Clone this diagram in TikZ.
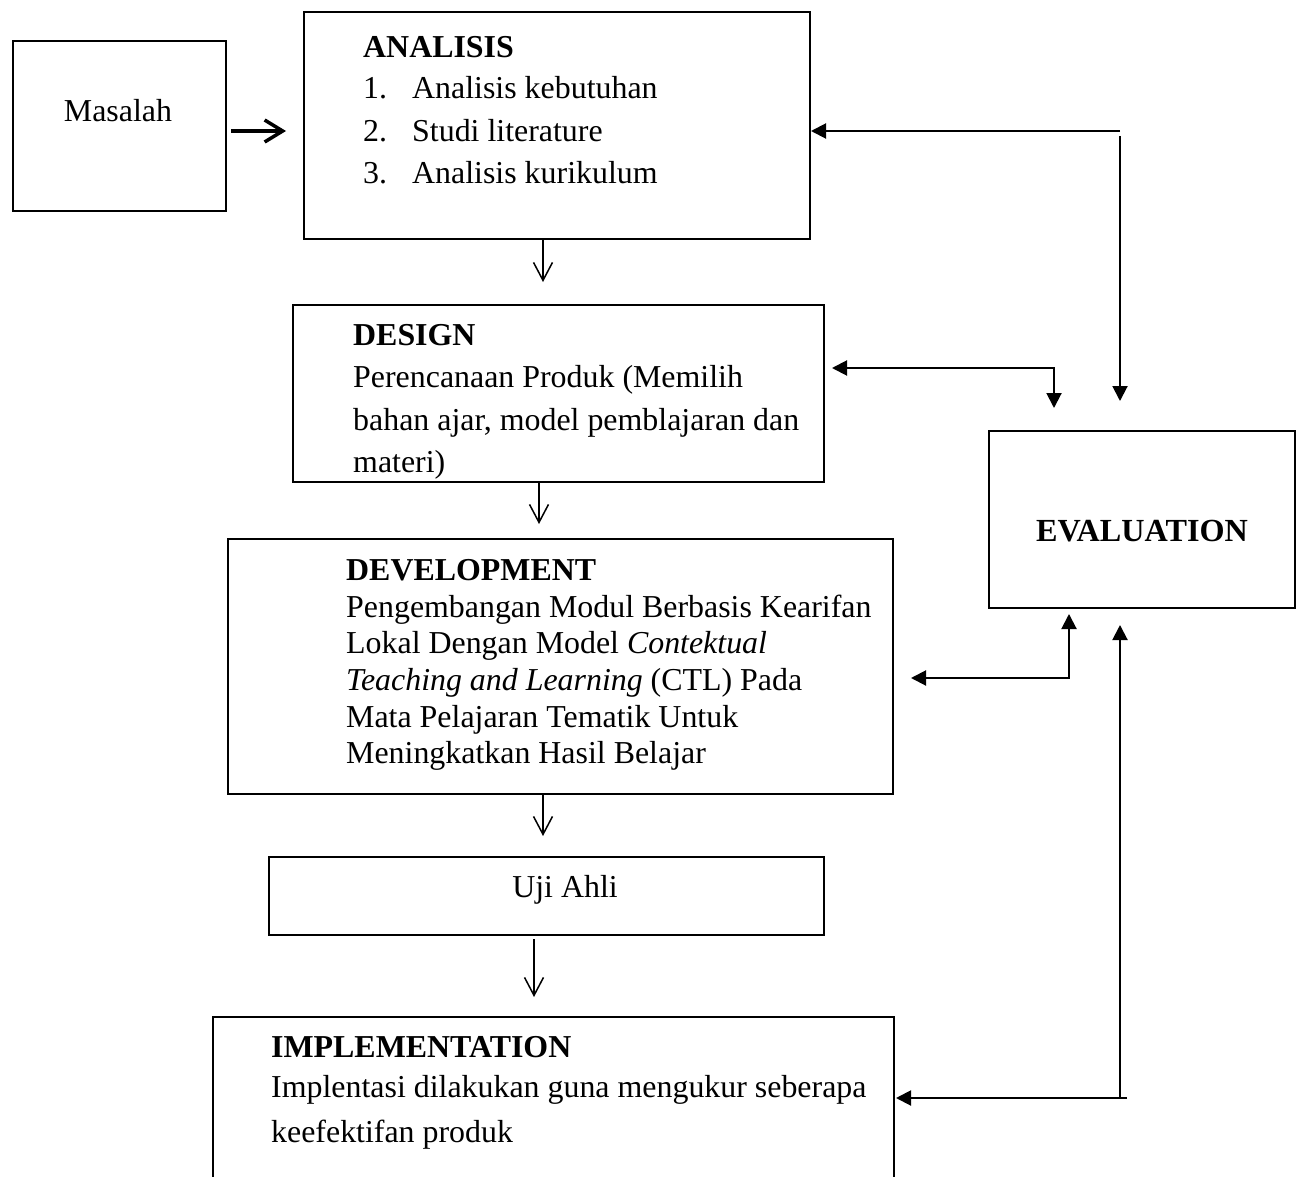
\documentclass[tikz,border=0pt]{standalone}
\usepackage{fontspec}
\setmainfont{Liberation Serif}
\usetikzlibrary{arrows.meta,calc}
\begin{document}
\begin{tikzpicture}[x=1pt,y=-1pt,
  box/.style={draw, line width=2pt, inner sep=0pt},
  txt/.style={anchor=base west, inner sep=0pt, font=\fontsize{31.9}{38}\selectfont},
  ctxt/.style={anchor=base, inner sep=0pt, font=\fontsize{31.9}{38}\selectfont},
  openarrow/.style={line width=1.5pt, -{Straight Barb[length=18pt,width=19pt]}},
  bigarrow/.style={line width=3.5pt, -{Straight Barb[length=18pt,width=22pt]}},
  fillarrow/.style={line width=2pt, -{Triangle[length=15pt,width=15pt]}},
  fillboth/.style={line width=2pt, {Triangle[length=15pt,width=15pt]}-{Triangle[length=15pt,width=15pt]}}
]
\useasboundingbox (0,0) rectangle (1304,1177);
\clip (0,0) rectangle (1304,1177);

% boxes
\node[box, minimum width=213pt, minimum height=170pt] (masalah) at (119.5,126) {};
\node[box, minimum width=506pt, minimum height=227pt] (analisis) at (557,125.5) {};
\node[box, minimum width=531pt, minimum height=177pt] (design) at (558.5,393.5) {};
\node[box, minimum width=306pt, minimum height=177pt] (evaluation) at (1142,519.5) {};
\node[box, minimum width=665pt, minimum height=255pt] (development) at (560.5,666.5) {};
\node[box, minimum width=555pt, minimum height=78pt] (uji) at (546.5,896) {};
\node[box, minimum width=681pt, minimum height=220pt] (impl) at (553.5,1127) {};

% texts
\node[ctxt] (tmasalah) at (118,122) {Masalah};

\node[txt, font=\fontsize{31.9}{38}\selectfont\bfseries] (tanalisis) at (363,58) {ANALISIS};
\node[txt] (tn1) at (363,99) {1.};
\node[txt] (ta1) at (412,99) {Analisis kebutuhan};
\node[txt] (tn2) at (363,142) {2.};
\node[txt] (ta2) at (412,142) {Studi literature};
\node[txt] (tn3) at (363,184) {3.};
\node[txt] (ta3) at (412,184) {Analisis kurikulum};

\node[txt, font=\fontsize{31.9}{38}\selectfont\bfseries] (tdesign) at (353,345) {DESIGN};
\node[txt] (td1) at (353,387) {Perencanaan Produk (Memilih};
\node[txt] (td2) at (353,430) {bahan ajar, model pemblajaran dan};
\node[txt] (td3) at (353,472) {materi)};

\node[ctxt, font=\fontsize{32.2}{38}\selectfont\bfseries] (teval) at (1142,541) {EVALUATION};

\node[txt, font=\fontsize{31.9}{38}\selectfont\bfseries] (tdev) at (346,580) {DEVELOPMENT};
\node[txt] (tv1) at (346,617) {Pengembangan Modul Berbasis Kearifan};
\node[txt] (tv2) at (346,653) {Lokal Dengan Model \textit{Contektual}};
\node[txt] (tv3) at (346,690) {\textit{Teaching and Learning} (CTL) Pada};
\node[txt] (tv4) at (346,727) {Mata Pelajaran Tematik Untuk};
\node[txt] (tv5) at (346,763) {Meningkatkan Hasil Belajar};

\node[ctxt] (tuji) at (565,897) {Uji Ahli};

\node[txt, font=\fontsize{31.9}{38}\selectfont\bfseries] (timpl) at (271,1057) {IMPLEMENTATION};
\node[txt] (ti1) at (271,1097) {Implentasi dilakukan guna mengukur seberapa};
\node[txt] (ti2) at (271,1142) {keefektifan produk};

% main flow arrows
\draw[bigarrow, shorten <=4pt, shorten >=17pt] ([yshift=-5pt]masalah.east) -- ([yshift=-5.5pt]analisis.west);
\draw[openarrow, shorten >=22pt] ([xshift=-14pt]analisis.south) -- ([xshift=-14pt]analisis.south |- design.north);
\draw[openarrow, shorten >=14pt] ([xshift=-19.5pt]design.south) -- ([xshift=-19.5pt]design.south |- development.north);
\draw[openarrow, shorten >=20pt] ([xshift=-17.5pt]development.south) -- ([xshift=-17.5pt]development.south |- uji.north);
\draw[openarrow, shorten <=3pt, shorten >=19pt] ([xshift=-12.5pt]uji.south) -- ([xshift=-12.5pt]uji.south |- impl.north);

% feedback connectors
\coordinate (ta) at (1120,131);
\coordinate (tb) at (1120,136);
\draw[fillarrow] (ta) -- (ta -| analisis.east);
\draw[fillarrow, shorten >=29pt] (tb) -- (tb |- evaluation.north);

\coordinate (da) at (1054,368);
\draw[fillboth, shorten <=7pt, shorten >=22pt] (da -| design.east) -- (da) -- (da |- evaluation.north);

\coordinate (va) at (1069,678);
\draw[fillboth, shorten <=17pt, shorten >=5pt] (va -| development.east) -- (va) -- (va |- evaluation.south);

\coordinate (ia) at (1127,1098);
\coordinate (ib) at (1120,1098);
\draw[fillarrow, shorten >=1pt] (ia) -- (ia -| impl.east);
\draw[fillarrow, shorten >=16pt] (ib) -- (ib |- evaluation.south);
\end{tikzpicture}
\end{document}
